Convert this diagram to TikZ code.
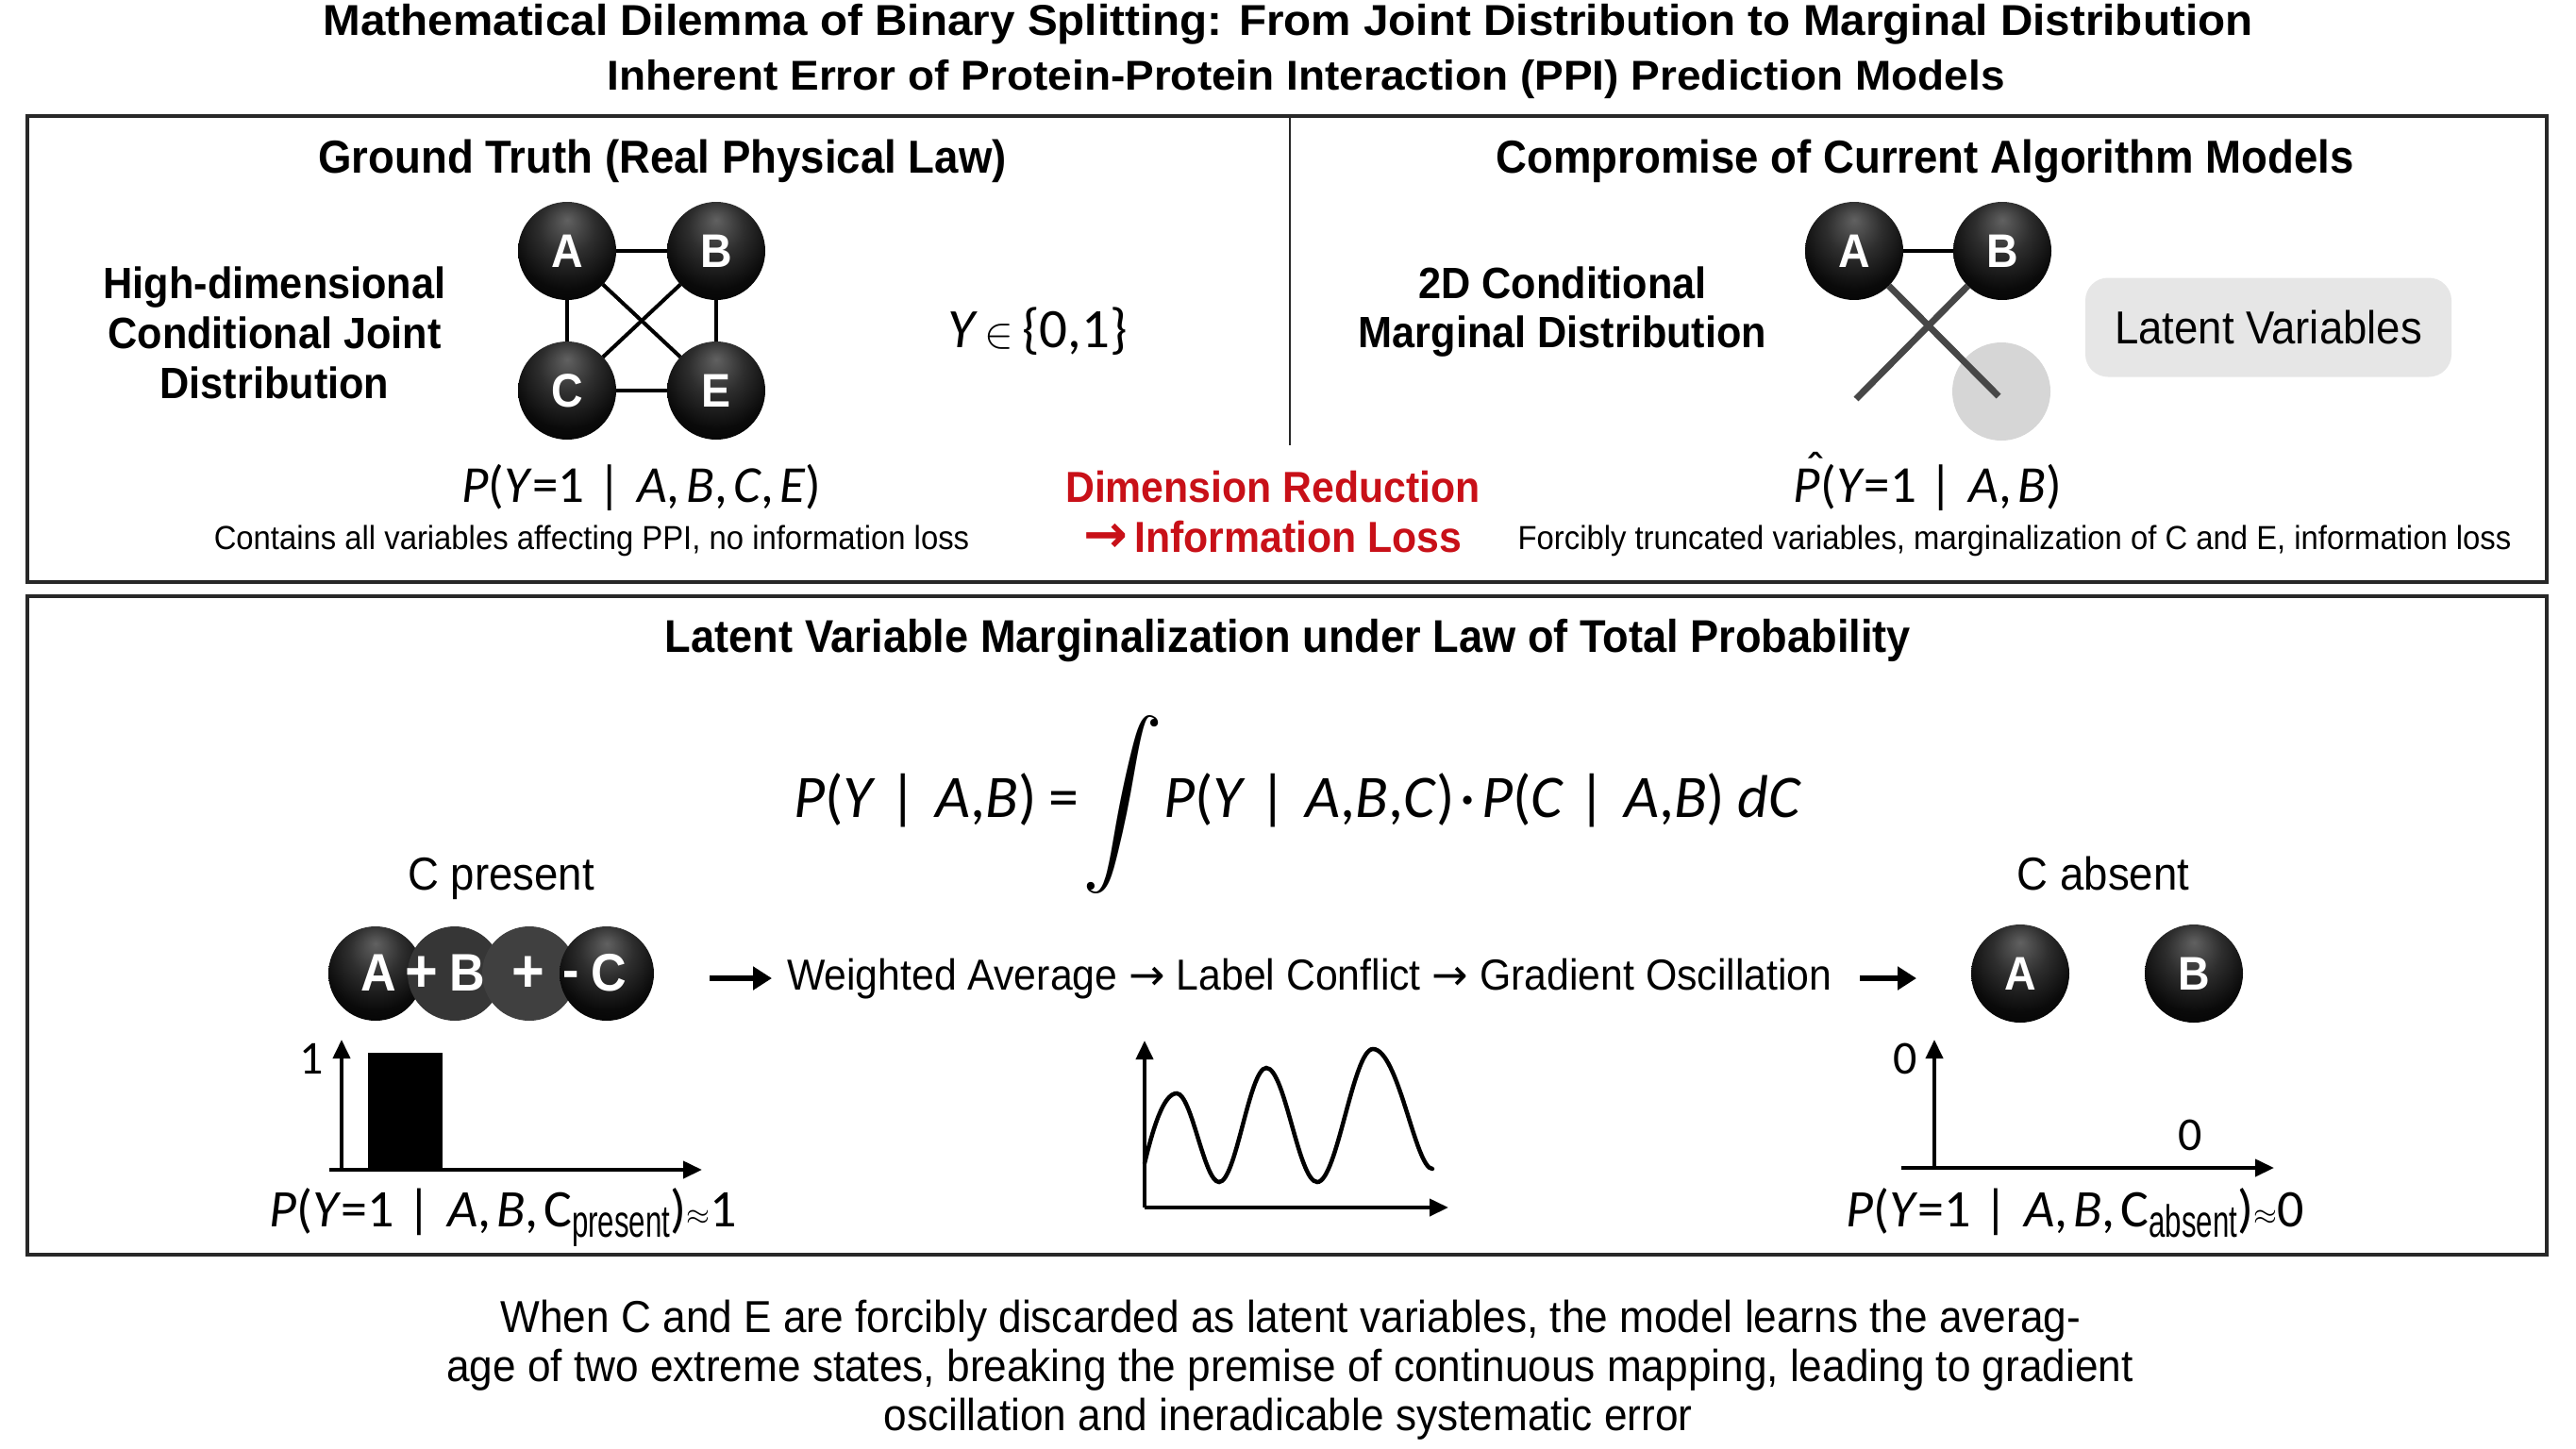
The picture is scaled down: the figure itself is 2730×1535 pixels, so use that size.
\RequirePackage{fix-cm}
\documentclass[tikz,border=0pt]{standalone}
\usepackage{fontspec}
\setmainfont{Liberation Sans}[FakeStretch=0.93]
\newfontfamily\titlefont{Liberation Sans}[FakeStretch=1.04]
\newfontfamily\formfont{Carlito}
\newfontfamily\arrowfont{DejaVu Sans}
\usetikzlibrary{arrows.meta}

\definecolor{lossred}{RGB}{200,16,24}
\definecolor{ghostgray}{RGB}{214,214,214}
\definecolor{latentgray}{RGB}{230,230,230}
\definecolor{framegray}{RGB}{40,40,40}
\definecolor{midball}{RGB}{54,54,54}

\pgfdeclareradialshading{darkball}{\pgfpoint{0bp}{16bp}}{%
  color(0bp)=(black!62); color(14bp)=(black!82); color(28bp)=(black!96);
  color(40bp)=(black); color(60bp)=(black)}

% italic variable letter in the formula font
\newcommand{\vit}[1]{\textit{#1}}
% P with a hat
\newcommand{\hatP}{\makebox[0pt][l]{\kern0.22em\raisebox{0.28em}{\char"02C6}}\vit{P}}
% lowered index word in the text font
\newcommand{\lowtext}[1]{\raisebox{-0.2em}{\normalfont\fontsize{48}{48}\selectfont\scalebox{0.7}[1]{#1}}}
% conditioning bar
\newcommand{\given}{\kern0.08em|\kern0.3em}
% math relations drawn from the 10pt symbol font and scaled up
\newcommand{\bigapprox}{\raisebox{0.02em}{\fontsize{10}{10}\selectfont\scalebox{3.2}{$\approx$}}}
\newcommand{\bigin}{{\fontsize{10}{10}\selectfont\scalebox{4.6}{$\in$}}}
\newcommand{\thinarrow}{{\arrowfont →}}

\tikzset{
  every node/.style={inner sep=0pt, outer sep=0pt},
  ball/.style={circle, minimum size=104pt, shading=darkball, text=white,
    font=\fontsize{50}{50}\selectfont\bfseries},
  chainball/.style={circle, minimum size=100pt},
  chainsym/.style={anchor=base, text=white, font=\fontsize{56}{56}\selectfont\bfseries},
  link/.style={line width=4pt, black},
  cutlink/.style={line width=7pt, black!72},
  axisline/.style={line width=4pt, -{Triangle[length=20pt,width=18pt]}},
  fatarrow/.style={line width=6pt, -{Triangle[length=20pt,width=24pt]}},
  panel/.style={line width=3.5pt, draw=framegray},
  titletext/.style={anchor=base, font=\fontsize{45.8}{46}\titlefont\bfseries},
  headtext/.style={anchor=base, font=\fontsize{49}{49}\selectfont\bfseries},
  sidetext/.style={anchor=base, font=\fontsize{46.5}{47}\selectfont\bfseries},
  bodytext/.style={anchor=base, font=\fontsize{47.5}{48}\selectfont},
  smalltext/.style={anchor=base, font=\fontsize{35.3}{36}\selectfont},
  redtext/.style={anchor=base, text=lossred, font=\fontsize{46}{46}\selectfont\bfseries},
  formula/.style={anchor=base, font=\fontsize{55}{55}\formfont},
  bigformula/.style={anchor=base west, font=\fontsize{64}{64}\formfont},
}

\begin{document}
\begin{tikzpicture}[x=1pt, y=-1pt]
\useasboundingbox (0,0) rectangle (2730,1535);
\fill[white] (0,0) rectangle (2730,1535);

% ---------- title ----------
\node[titletext] (title1) at (1365,37)
  {Mathematical Dilemma of Binary Splitting: From Joint Distribution to Marginal Distribution};
\node[titletext, font=\fontsize{44.2}{45}\titlefont\bfseries] (title2) at (1384,95)
  {Inherent Error of Protein-Protein Interaction (PPI) Prediction Models};

% ---------- upper panel ----------
\draw[panel] (29,123) rectangle (2699,617);
\draw[line width=2.5pt, framegray] (1367,123) -- (1367,472);

\node[headtext] (gthead) at (702,183) {Ground Truth (Real Physical Law)};
\node[headtext] (cmhead) at (2040,183) {Compromise of Current Algorithm Models};

\node[sidetext] (jl1) at (291,316) {High-dimensional};
\node[sidetext] (jl2) at (291,369) {Conditional Joint};
\node[sidetext] (jl3) at (291,422) {Distribution};

% full graph of four variables
\node[ball] (A) at (601,266) {A};
\node[ball] (B) at (759,266) {B};
\node[ball] (C) at (601,414) {C};
\node[ball] (E) at (759,414) {E};
\draw[link] (A) -- (B);
\draw[link] (C) -- (E);
\draw[link] (A) -- (C);
\draw[link] (B) -- (E);
\draw[link] (A) -- (E);
\draw[link] (B) -- (C);

\node[formula, font=\fontsize{59}{59}\formfont] (yset) at (1100,368)
  {\vit{Y}\kern0.12em\bigin\kern0.15em\{0,1\}};

\node[formula] (pjoint) at (680,532)
  {\vit{P}(\vit{Y}=1\,\given\vit{A},\kern0.12em\vit{B},\kern0.12em\vit{C},\kern0.12em\vit{E})};
\node[smalltext] (jnote) at (627,582)
  {Contains all variables affecting PPI, no information loss};

\node[redtext] (red1) at (1349,532) {Dimension Reduction};
\node[redtext] (red2) at (1349,585)
  {{\arrowfont\bfseries\fontsize{56}{56}\selectfont →}\kern0.15em Information Loss};

\node[sidetext] (ml1) at (1656,316) {2D Conditional};
\node[sidetext] (ml2) at (1656,368) {Marginal Distribution};

% truncated graph: only A and B kept
\node[circle, minimum size=104pt, fill=ghostgray] (Eg) at (2121,415) {};
\coordinate (Ecut) at (2118,420);
\coordinate (Ccut) at (1967,423);
\node[ball] (A2) at (1965,266) {A};
\node[ball] (B2) at (2122,266) {B};
\draw[link] (A2) -- (B2);
\draw[cutlink] (A2) -- (Ecut);
\draw[cutlink] (B2) -- (Ccut);

\node[rounded corners=24pt, fill=latentgray, minimum width=388pt, minimum height=105pt,
  font=\fontsize{49}{49}\selectfont] (latent) at (2404,347) {Latent Variables};

\node[formula] (pmarg) at (2043,532)
  {\hatP(\vit{Y}=1\,\given\vit{A},\kern0.12em\vit{B})};
\node[smalltext] (mnote) at (2135,582)
  {Forcibly truncated variables, marginalization of C and E, information loss};

% ---------- lower panel ----------
\draw[panel] (29,632) rectangle (2699,1330);
\node[headtext, font=\fontsize{48.6}{49}\selectfont\bfseries] (ltphead) at (1365,691)
  {Latent Variable Marginalization under Law of Total Probability};

\node[bigformula] (lhs) at (841,866)
  {\vit{P}(\vit{Y}\kern0.15em\given\vit{A},\vit{B})\kern0.2em=};
\node (intg) at (1190,853)
  {\fontsize{10}{10}\selectfont\resizebox*{!}{189pt}{$\displaystyle\int$}};
\node[bigformula] (rhs) at (1233,866)
  {\vit{P}(\vit{Y}\kern0.15em\given\vit{A},\vit{B},\vit{C})\kern0.1em·\kern0.1em\vit{P}(\vit{C}\kern0.15em\given\vit{A},\vit{B})\kern0.2em\vit{dC}};

\node[bodytext, font=\fontsize{49}{49}\selectfont] (cpres) at (531,943) {C present};
\node[bodytext, font=\fontsize{49}{49}\selectfont] (cabs) at (2229,943) {C absent};

% overlapping balls for the present case
\node[chainball, shading=darkball] (c1) at (398,1032) {};
\node[chainball, fill=midball] (c2) at (482,1032) {};
\node[chainball, fill=midball!95!white] (c3) at (561,1032) {};
\node[chainball, shading=darkball] (c4) at (643,1032) {};
\node[chainsym] (sA) at (401,1050) {A};
\node[chainsym, font=\fontsize{64}{64}\selectfont\bfseries] (sp1) at (447,1051) {+};
\node[chainsym] (sB) at (495,1050) {B};
\node[chainsym, font=\fontsize{64}{64}\selectfont\bfseries] (sp2) at (560,1051) {+};
\node[chainsym] (sm) at (605,1047) {-};
\node[chainsym] (sC) at (645,1050) {C};

% flow line
\coordinate (fa1s) at (752,1037);
\coordinate (fa1e) at (818,1037);
\draw[fatarrow] (fa1s) -- (fa1e);
\node[bodytext, font=\fontsize{46}{46}\selectfont, anchor=base west] (flow) at (834,1049)
  {Weighted Average \thinarrow\ Label Conflict \thinarrow\ Gradient Oscillation};
\coordinate (fa2s) at (1971,1037);
\coordinate (fa2e) at (2031,1037);
\draw[fatarrow] (fa2s) -- (fa2e);

\node[ball] (A3) at (2141,1032) {A};
\node[ball] (B3) at (2325,1032) {B};

% left chart: step at 1
\coordinate (lo) at (362,1240);
\coordinate (ly) at (362,1102);
\coordinate (lxs) at (349,1240);
\coordinate (lx) at (744,1240);
\fill (390,1116) rectangle (469,1240);
\draw[axisline] (lo) -- (ly);
\draw[axisline] (lxs) -- (lx);
\node[formula, font=\fontsize{50}{50}\formfont] (one) at (330,1138) {1};
\node[formula, font=\fontsize{56}{56}\formfont] (ppres) at (533,1300)
  {\vit{P}(\vit{Y}=1\,\given\vit{A},\kern0.1em\vit{B},\kern0.1em C\lowtext{present})\bigapprox1};

% middle chart: oscillation
\coordinate (mo) at (1213,1280);
\coordinate (my) at (1213,1103);
\coordinate (mx) at (1535,1280);
\draw[line width=4.5pt, line cap=round]
  (1213,1233) .. controls (1222,1196) and (1233,1159) .. (1247,1159)
  .. controls (1263,1159) and (1276,1253) .. (1292,1253)
  .. controls (1310,1253) and (1324,1132) .. (1342,1132)
  .. controls (1362,1132) and (1376,1253) .. (1396,1253)
  .. controls (1417,1253) and (1434,1112) .. (1455,1112)
  .. controls (1482,1112) and (1500,1239) .. (1518,1239);
\draw[axisline] (mo) -- (my);
\draw[axisline] (mo) -- (mx);

% right chart: flat at 0
\coordinate (ro) at (2050,1238);
\coordinate (ry) at (2050,1102);
\coordinate (rxs) at (2015,1238);
\coordinate (rx) at (2410,1238);
\draw[axisline] (ro) -- (ry);
\draw[axisline] (rxs) -- (rx);
\node[formula, font=\fontsize{50}{50}\formfont] (zero1) at (2019,1138) {0};
\node[formula, font=\fontsize{50}{50}\formfont] (zero2) at (2321,1219) {0};
\node[formula, font=\fontsize{56}{56}\formfont] (pabs) at (2199,1300)
  {\vit{P}(\vit{Y}=1\,\given\vit{A},\kern0.1em\vit{B},\kern0.1em C\lowtext{absent})\bigapprox0};

% ---------- closing note ----------
\node[bodytext] (n1) at (1368,1412)
  {When C and E are forcibly discarded as latent variables, the model learns the averag-};
\node[bodytext] (n2) at (1367,1464)
  {age of two extreme states, breaking the premise of continuous mapping, leading to gradient};
\node[bodytext] (n3) at (1365,1516)
  {oscillation and ineradicable systematic error};
\end{tikzpicture}
\end{document}
